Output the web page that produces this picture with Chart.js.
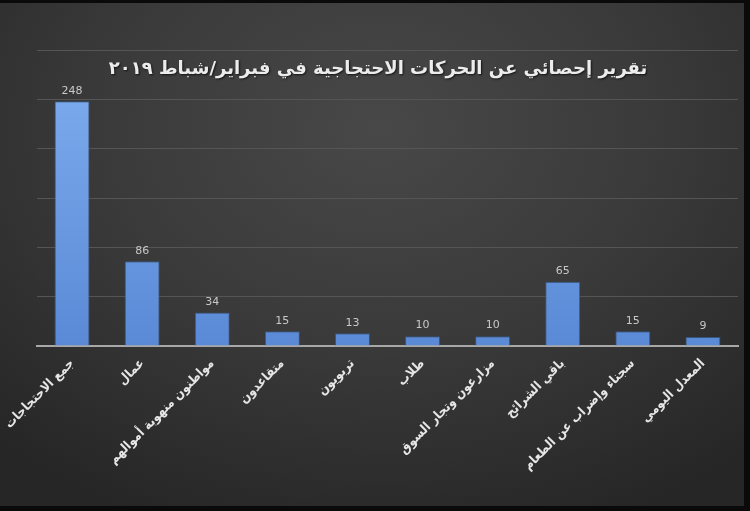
<!DOCTYPE html>
<html>
<head>
<meta charset="utf-8">
<script src="https://cdn.jsdelivr.net/npm/chart.js@4.4.1/dist/chart.umd.min.js"></script>
<style>
  html, body { margin: 0; padding: 0; background: #000; }
  #wrap { width: 750px; height: 511px; position: relative; background: #0a0a0a; overflow: hidden; }
  #bg { position: absolute; left: 0; top: 3px; width: 744px; height: 503px;
        background: radial-gradient(ellipse 75% 85% at 51% 25%, #484848 0%, #3a3a3a 50%, #262626 100%); }
  #c { position: absolute; left: 0; top: 0; }
</style>
</head>
<body>
<div id="wrap"><div id="bg"></div><canvas id="c" width="740" height="511"></canvas></div>
<script>
const titleText = 'تقرير إحصائي عن الحركات الاحتجاجية في فبراير/شباط ٢٠١٩';
const categories = [
  'جمع الاحتجاجات',
  'عمال',
  'مواطنون منهوبة أموالهم',
  'متقاعدون',
  'تربويون',
  'طلاب',
  'مزارعون وتجار السوق',
  'باقي الشرائح',
  'سجناء وإضراب عن الطعام',
  'المعدل اليومي'
];
const values = [248, 86, 34, 15, 13, 10, 10, 65, 15, 9];
const yMin = 0, yMax = 300, yStep = 50;

const AR_FONT = '"DejaVu Sans", sans-serif';
const AR_FONT_COND = '"DejaVu Sans Condensed", "DejaVu Sans", sans-serif';

const overlayPlugin = {
  id: 'overlay',
  afterDatasetsDraw(chart) {
    const ctx = chart.ctx;
    ctx.save();
    const meta = chart.getDatasetMeta(0);
    ctx.font = '11px "DejaVu Sans", sans-serif';
    ctx.fillStyle = '#c8c8c8';
    ctx.textAlign = 'center';
    ctx.textBaseline = 'bottom';
    meta.data.forEach((bar, i) => {
      ctx.fillText(String(values[i]), bar.x, bar.y - 5);
    });
    ctx.font = 'bold 18px ' + AR_FONT;
    ctx.textAlign = 'center';
    ctx.textBaseline = 'middle';
    ctx.shadowColor = 'rgba(0,0,0,0.7)';
    ctx.shadowOffsetX = 1;
    ctx.shadowOffsetY = 1;
    ctx.shadowBlur = 2;
    ctx.fillStyle = '#ececec';
    ctx.direction = 'rtl';
    ctx.fillText(titleText, 378, 69);
    ctx.restore();
  }
};

const ctx = document.getElementById('c').getContext('2d');
new Chart(ctx, {
  type: 'bar',
  data: {
    labels: categories,
    datasets: [{
      data: values,
      backgroundColor(c) {
        const area = c.chart.chartArea;
        if (!area) return '#6a9be0';
        const g = c.chart.ctx.createLinearGradient(0, area.top, 0, area.bottom);
        g.addColorStop(0, '#80aef0');
        g.addColorStop(1, '#5a8ad6');
        return g;
      },
      borderColor: '#35557f',
      borderWidth: 1,
      borderSkipped: 'bottom',
      barPercentage: 1,
      categoryPercentage: 0.5
    }]
  },
  options: {
    responsive: false,
    animation: false,
    events: [],
    layout: { padding: { left: 0, right: 2, top: 50, bottom: 0 } },
    plugins: {
      legend: { display: false },
      tooltip: { enabled: false },
      title: { display: false }
    },
    scales: {
      x: {
        grid: { display: false },
        border: { display: true, color: '#a8a8a8', width: 2 },
        ticks: {
          color: '#e6e6e6',
          font: { family: AR_FONT_COND, size: 13, weight: 'bold' },
          minRotation: 45,
          maxRotation: 45,
          autoSkip: false,
          padding: 2
        },
        afterFit(scale) {
          scale.height = 165;
          scale.paddingLeft = 0;
          scale.paddingRight = 0;
        }
      },
      y: {
        min: yMin,
        max: yMax,
        grid: { color: '#555555', lineWidth: 1, drawTicks: false },
        border: { display: false },
        ticks: { display: false, stepSize: yStep },
        afterFit(scale) {
          scale.width = 37;
          scale.paddingTop = 0;
          scale.paddingBottom = 0;
        }
      }
    }
  },
  plugins: [overlayPlugin]
});
</script>
</body>
</html>
